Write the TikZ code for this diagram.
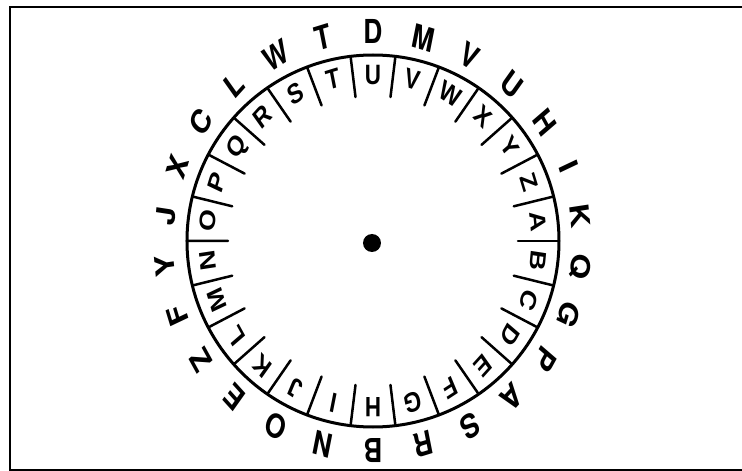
\documentclass[tikz,border=0pt]{standalone}
\usepackage{fontspec}
\setmainfont{Liberation Sans}
\newfontfamily\cellfont{Liberation Sans}
\newfontfamily\rimfont{TeX Gyre Heros}

\tikzset{
  wheelline/.style={line width=3pt},
  cellline/.style={line width=2.5pt, line cap=round},
  innerletter/.style={font=\cellfont\bfseries\fontsize{28}{28}\selectfont, inner sep=0pt, text height=20.5pt, text depth=0pt, xscale=0.8},
  outerletter/.style={font=\rimfont\bfseries\fontsize{33}{33}\selectfont, inner sep=0pt, text height=23.6pt, text depth=0pt, xscale=0.8}
}

\begin{document}
\begin{tikzpicture}[x=1pt, y=1pt]

  \useasboundingbox (-373,-230) rectangle (369,241);

  % Frame
  \draw[line width=2.2pt] (-363,-229) rectangle (380,234);

  % Wheel rim and cell dividers
  \draw[wheelline] (0,0) circle (186);
  \foreach \k in {0,...,25} {
    \draw[cellline] (\k*13.846:145) -- (\k*13.846:186);
  }

  % Inner alphabet (clockwise, tops outward)
  \foreach \ch [count=\i from 0] in {A,B,C,D,E,F,G,H,I,J,K,L,M,N,O,P,Q,R,S,T,U,V,W,X,Y,Z} {
    \pgfmathsetmacro{\ang}{6.923-\i*13.846}
    \node[innerletter, rotate=\ang-90] (in\i) at (\ang:167) {\ch};
  }

  % Outer alphabet (cipher letters)
  \foreach \ch [count=\i from 0] in {K,Q,G,P,A,S,R,B,N,O,E,Z,F,Y,J,X,C,L,W,T,D,M,V,U,H,I} {
    \pgfmathsetmacro{\ang}{6.923-\i*13.846}
    \node[outerletter, rotate=\ang-90] (out\i) at (\ang:209) {\ch};
  }

  % Hub
  \node[circle, fill=black, inner sep=0pt, minimum size=18pt] (hub) at (-1,-2) {};

\end{tikzpicture}
\end{document}
